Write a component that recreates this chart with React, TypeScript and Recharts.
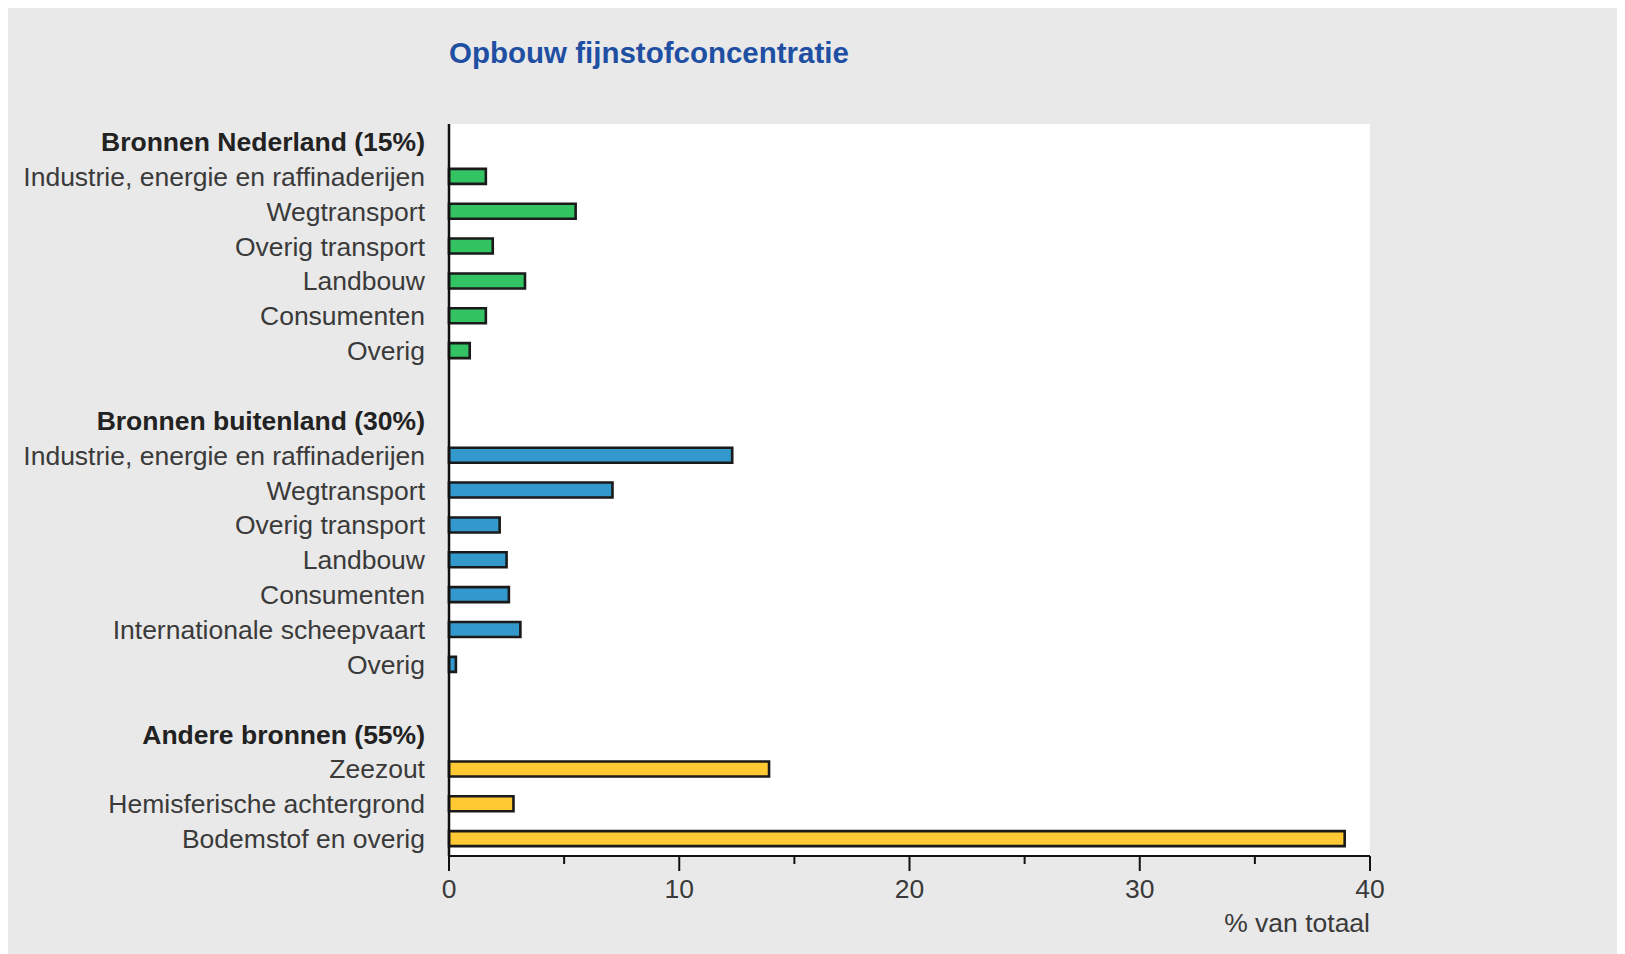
import React from 'react'
import { BarChart, Bar, XAxis, YAxis, CartesianGrid, Cell } from 'recharts'

const headers = ['Bronnen Nederland (15%)', 'Bronnen buitenland (30%)', 'Andere bronnen (55%)']
const groupColors = ['#33c363', '#3399cc', '#ffc933']

const nlLabels = ['Industrie, energie en raffinaderijen', 'Wegtransport', 'Overig transport', 'Landbouw', 'Consumenten', 'Overig']
const nlValues = [1.6, 5.5, 1.9, 3.3, 1.6, 0.9]

const buLabels = ['Industrie, energie en raffinaderijen', 'Wegtransport', 'Overig transport', 'Landbouw', 'Consumenten', 'Internationale scheepvaart', 'Overig']
const buValues = [12.3, 7.1, 2.2, 2.5, 2.6, 3.1, 0.3]

const anLabels = ['Zeezout', 'Hemisferische achtergrond', 'Bodemstof en overig']
const anValues = [13.9, 2.8, 38.9]

const xTicks = [0, 5, 10, 15, 20, 25, 30, 35, 40]
const xLabelTicks = [0, 10, 20, 30, 40]

type Row = { id: string; label: string; value: number | null; header: boolean; group: number }

const groups = [
  { labels: nlLabels, values: nlValues },
  { labels: buLabels, values: buValues },
  { labels: anLabels, values: anValues },
]

const rows: Row[] = []
groups.forEach((g, gi) => {
  if (gi > 0) rows.push({ id: `gap-${gi}`, label: '', value: null, header: false, group: gi })
  rows.push({ id: `h-${gi}`, label: headers[gi], value: null, header: true, group: gi })
  g.labels.forEach((l, i) => rows.push({ id: `r-${gi}-${i}`, label: l, value: g.values[i], header: false, group: gi }))
})

const FONT = '"Liberation Sans", Arial, Helvetica, sans-serif'
const LABEL_SIZE = 26.5

function CategoryTick(props: any) {
  const { x, y, payload } = props
  const row = rows[payload.index]
  if (!row || !row.label) return null
  return (
    <text
      x={x}
      y={y}
      dy="0.36em"
      textAnchor="end"
      fontFamily={FONT}
      fontSize={LABEL_SIZE}
      fontWeight={row.header ? 'bold' : 'normal'}
      fill={row.header ? '#222' : '#3a3a3a'}
    >
      {row.label}
    </text>
  )
}

function ValueTick(props: any) {
  const { x, y, payload } = props
  const major = xLabelTicks.includes(payload.value)
  return (
    <g>
      <line x1={x} x2={x} y1={y} y2={y + (major ? 15 : 8)} stroke="#111" strokeWidth={2} />
      {major && (
        <text x={x} y={y + 42} textAnchor="middle" fontFamily={FONT} fontSize={LABEL_SIZE} fill="#3a3a3a">
          {payload.value}
        </text>
      )}
    </g>
  )
}

function AxisUnit(props: any) {
  const vb = props.viewBox
  return (
    <text x={vb.x + vb.width} y={vb.y + 76} textAnchor="end" fontFamily={FONT} fontSize={LABEL_SIZE} fill="#3a3a3a">
      % van totaal
    </text>
  )
}

export default function App() {
  return (
    <div style={{ position: 'relative', width: 1617, height: 946, background: '#e9e9e9' }}>
      <style>{'html,body{overflow:hidden}'}</style>
      <div
        style={{
          position: 'absolute',
          left: 441,
          top: 30,
          fontFamily: FONT,
          fontWeight: 'bold',
          fontSize: 29.5,
          lineHeight: '30px',
          color: '#1f4fa3',
          whiteSpace: 'nowrap',
        }}
      >
        Opbouw fijnstofconcentratie
      </div>
      <BarChart
        width={1600}
        height={930}
        data={rows}
        layout="vertical"
        margin={{ top: 116, right: 238, bottom: 0, left: 0 }}
        barCategoryGap={0}
      >
        <CartesianGrid horizontal={false} vertical={false} fill="#ffffff" />
        <XAxis
          type="number"
          domain={[0, 40]}
          ticks={xTicks}
          interval={0}
          height={82}
          tickSize={0}
          tickMargin={0}
          tickLine={false}
          tick={<ValueTick />}
          axisLine={{ stroke: '#111', strokeWidth: 2 }}
          label={<AxisUnit />}
        />
        <YAxis
          type="category"
          dataKey="id"
          width={441}
          interval={0}
          tickSize={0}
          tickMargin={24}
          tickLine={false}
          tick={<CategoryTick />}
          axisLine={{ stroke: '#111', strokeWidth: 2.5 }}
        />
        <Bar dataKey="value" barSize={15} stroke="#1a1a1a" strokeWidth={2.6} isAnimationActive={false}>
          {rows.map((r) => (
            <Cell key={r.id} fill={groupColors[r.group]} />
          ))}
        </Bar>
      </BarChart>
    </div>
  )
}
